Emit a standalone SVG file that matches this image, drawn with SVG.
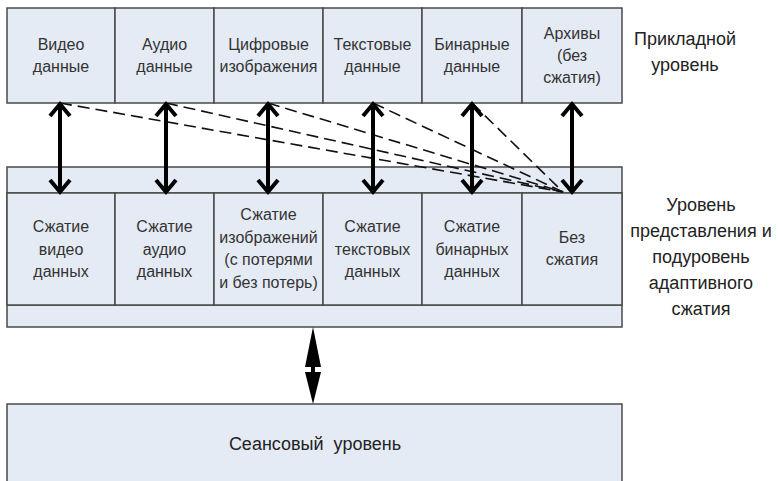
<svg xmlns="http://www.w3.org/2000/svg" width="778" height="481" viewBox="0 0 778 481">
<style>
.cell{fill:#e5ebf5;stroke:#4a4a4a;stroke-width:1.5}
.t{font-family:"Liberation Sans",Arial,sans-serif;font-size:16px;fill:#333;text-anchor:middle}
.lbl{font-family:"Liberation Sans",Arial,sans-serif;font-size:18px;fill:#222;text-anchor:middle}
.arr{fill:none;stroke:#000;stroke-width:4;stroke-linejoin:miter}
.dash{fill:none;stroke:#111;stroke-width:1.6;stroke-dasharray:12,6}
</style>
<rect width="778" height="481" fill="#fff"/>

<g id="app-layer">
  <g id="video-data"><rect class="cell" x="7" y="8" width="108" height="95"/><text class="t" x="61" y="50">Видео</text><text class="t" x="61" y="72">данные</text></g>
  <g id="audio-data"><rect class="cell" x="115" y="8" width="99" height="95"/><text class="t" x="164.5" y="50">Аудио</text><text class="t" x="164.5" y="72">данные</text></g>
  <g id="digital-images"><rect class="cell" x="214" y="8" width="109" height="95"/><text class="t" x="268.5" y="50">Цифровые</text><text class="t" x="268.5" y="72">изображения</text></g>
  <g id="text-data"><rect class="cell" x="323" y="8" width="99" height="95"/><text class="t" x="372.5" y="50">Текстовые</text><text class="t" x="372.5" y="72">данные</text></g>
  <g id="binary-data"><rect class="cell" x="422" y="8" width="100" height="95"/><text class="t" x="472" y="50">Бинарные</text><text class="t" x="472" y="72">данные</text></g>
  <g id="archives"><rect class="cell" x="522" y="8" width="100" height="95"/><text class="t" x="572" y="39">Архивы</text><text class="t" x="572" y="61">(без</text><text class="t" x="572" y="83">сжатия)</text></g>
</g>

<g id="presentation-layer">
  <rect class="cell" x="7" y="167" width="615" height="160"/>
  <line x1="7" y1="193" x2="622" y2="193" stroke="#4a4a4a" stroke-width="1.5"/>
  <line x1="7" y1="305" x2="622" y2="305" stroke="#4a4a4a" stroke-width="1.5"/>
  <g id="video-compression"><rect class="cell" x="7" y="193" width="108" height="112"/><text class="t" x="61" y="232">Сжатие</text><text class="t" x="61" y="255">видео</text><text class="t" x="61" y="277">данных</text></g>
  <g id="audio-compression"><rect class="cell" x="115" y="193" width="99" height="112"/><text class="t" x="164.5" y="232">Сжатие</text><text class="t" x="164.5" y="255">аудио</text><text class="t" x="164.5" y="277">данных</text></g>
  <g id="image-compression"><rect class="cell" x="214" y="193" width="109" height="112"/><text class="t" x="268.5" y="220">Сжатие</text><text class="t" x="268.5" y="243">изображений</text><text class="t" x="268.5" y="265">(с потерями</text><text class="t" x="268.5" y="288">и без потерь)</text></g>
  <g id="text-compression"><rect class="cell" x="323" y="193" width="99" height="112"/><text class="t" x="372.5" y="232">Сжатие</text><text class="t" x="372.5" y="255">текстовых</text><text class="t" x="372.5" y="277">данных</text></g>
  <g id="binary-compression"><rect class="cell" x="422" y="193" width="100" height="112"/><text class="t" x="472" y="232">Сжатие</text><text class="t" x="472" y="255">бинарных</text><text class="t" x="472" y="277">данных</text></g>
  <g id="no-compression"><rect class="cell" x="522" y="193" width="100" height="112"/><text class="t" x="572" y="243">Без</text><text class="t" x="572" y="265">сжатия</text></g>
</g>

<g id="session-layer">
  <rect class="cell" x="7" y="404" width="615" height="90"/>
  <text class="lbl" x="315" y="450" xml:space="preserve">Сеансовый  уровень</text>
</g>

<g id="labels">
  <g id="label-app"><text class="lbl" x="685" y="45">Прикладной</text><text class="lbl" x="685" y="71">уровень</text></g>
  <g id="label-pres"><text class="lbl" x="701" y="211">Уровень</text><text class="lbl" x="701" y="237">представления и</text><text class="lbl" x="701" y="263">подуровень</text><text class="lbl" x="701" y="289">адаптивного</text><text class="lbl" x="701" y="315">сжатия</text></g>
</g>

<g id="connectors">
  <path class="dash" d="M60 103 L563 192"/>
  <path class="dash" d="M166 103 L563 192"/>
  <path class="dash" d="M268 103 L563 192"/>
  <path class="dash" d="M373 103 L563 192"/>
  <path class="dash" d="M472 103 L563 192"/>
  <path class="arr" d="M60 106 V190 M50 116 L60 104 L70 116 M50 180 L60 192 L70 180"/>
  <path class="arr" d="M166 106 V190 M156 116 L166 104 L176 116 M156 180 L166 192 L176 180"/>
  <path class="arr" d="M268 106 V190 M258 116 L268 104 L278 116 M258 180 L268 192 L278 180"/>
  <path class="arr" d="M373 106 V190 M363 116 L373 104 L383 116 M363 180 L373 192 L383 180"/>
  <path class="arr" d="M472 106 V190 M462 116 L472 104 L482 116 M462 180 L472 192 L482 180"/>
  <path class="arr" d="M572 106 V190 M562 116 L572 104 L582 116 M562 180 L572 192 L582 180"/>
  <path d="M313 327 L321 367 L315 367 L315 372 L321 372 L313 404 L305 372 L311 372 L311 367 L305 367 Z" fill="#000"/>
</g>
</svg>
